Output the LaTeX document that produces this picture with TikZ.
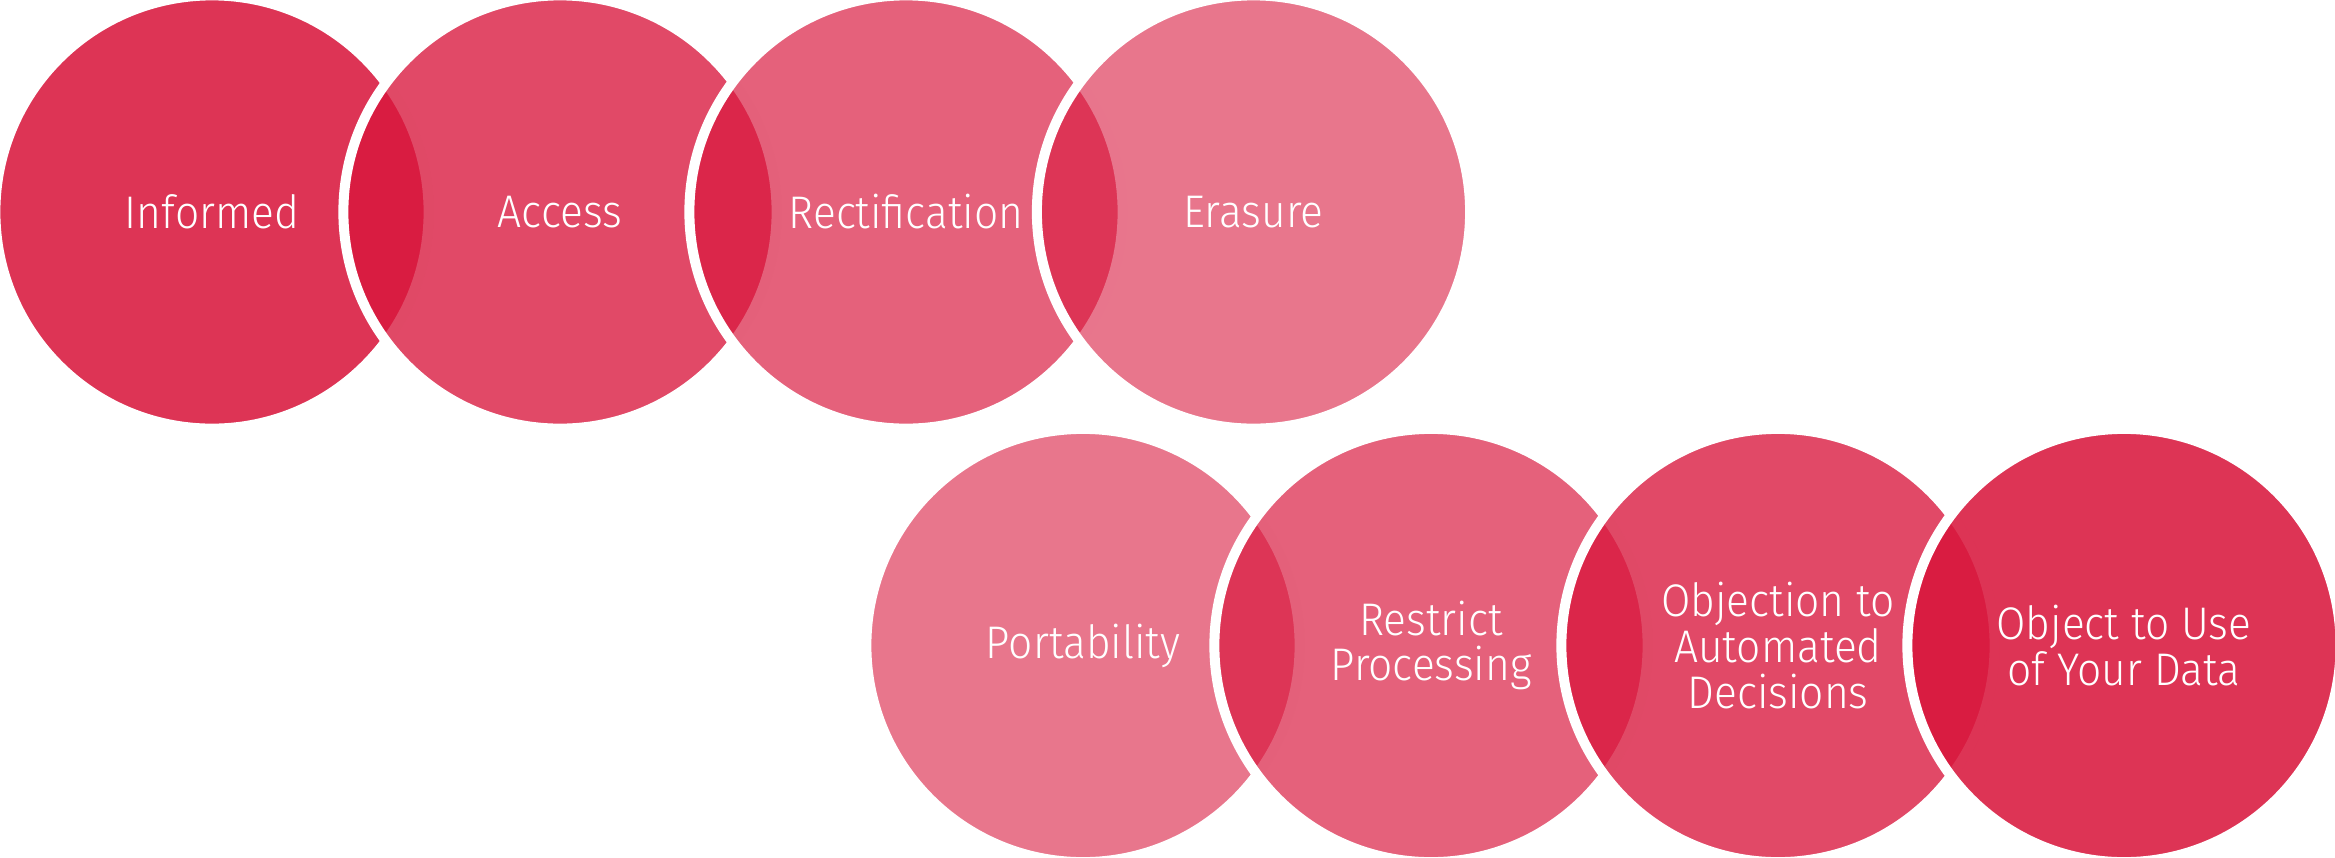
\documentclass[tikz,border=0pt]{standalone}
\usepackage{fontspec}
\setmainfont{Fira Sans Light}[FakeStretch=0.93]
\definecolor{rightsred}{RGB}{216,22,60}

\begin{document}
\begin{tikzpicture}[x=0.01cm, y=-0.01cm,
  right/.style={circle, minimum size=4.33cm, inner sep=0pt, outer sep=0pt,
    fill=rightsred, draw=white, line width=0.1cm, text=white, text opacity=1,
    align=center, font=\fontsize{13}{13}\selectfont}]
  \useasboundingbox (0,0) rectangle (2335,857);

  % first row, darkest to lightest
  \foreach \x/\op/\nm/\txt in {212/0.87/informed/Informed, 560/0.78/access/Access,
      906/0.68/rectify/Rectification, 1253.5/0.59/erase/Erasure} {
    \node[right, fill opacity=\op] (\nm) at (\x, 212) {\txt};
  }

  % second row, lightest to darkest
  \foreach \x/\op/\nm/\txt in {1083/0.59/port/Portability,
      1431/0.68/restrict/{Restrict\\Processing},
      1778/0.78/autodec/{Objection to\\Automated\\Decisions},
      2124/0.87/objuse/{Object to Use\\of Your Data}} {
    \node[right, fill opacity=\op] (\nm) at (\x, 645.5) {\txt};
  }
\end{tikzpicture}
\end{document}
